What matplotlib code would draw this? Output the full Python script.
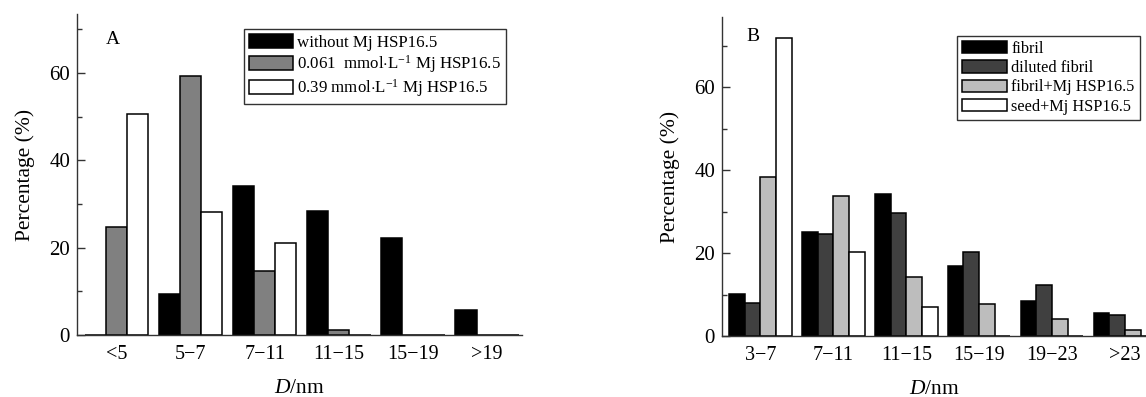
import numpy as np
import matplotlib
matplotlib.use("Agg")
import matplotlib.pyplot as plt
from matplotlib.ticker import MultipleLocator

plt.rcParams['font.family'] = ['Liberation Serif', 'DejaVu Serif']
plt.rcParams['mathtext.fontset'] = 'custom'
plt.rcParams['mathtext.rm'] = 'Liberation Serif'
plt.rcParams['mathtext.it'] = 'Liberation Serif:italic'

# ---- Panel A data ----
cats_a = ["<5", "5\u22127", "7\u221211", "11\u221215", "15\u221219", ">19"]
without_mj = [0, 9.4, 34.2, 28.3, 22.3, 5.8]
mj_0061 = [24.7, 59.3, 14.7, 1.1, 0, 0]
mj_039 = [50.6, 28.2, 21.0, 0, 0, 0]
labels_a = ["without Mj HSP16.5",
            r"0.061  mmol$\cdot$L$^{-1}$ Mj HSP16.5",
            r"0.39 mmol$\cdot$L$^{-1}$ Mj HSP16.5"]

# ---- Panel B data ----
cats_b = ["3\u22127", "7\u221211", "11\u221215", "15\u221219", "19\u221223", ">23"]
fibril = [10.1, 25.0, 34.3, 16.9, 8.4, 5.5]
diluted_fibril = [7.9, 24.7, 29.7, 20.3, 12.3, 5.0]
fibril_mj = [38.4, 33.8, 14.3, 7.8, 4.1, 1.4]
seed_mj = [72.0, 20.2, 7.0, 0, 0, 0]
labels_b = ["fibril", "diluted fibril", "fibril+Mj HSP16.5", "seed+Mj HSP16.5"]

W, H = 1146, 397
fig = plt.figure(figsize=(W / 100, H / 100), dpi=100)


def px_axes(l, r, t, b):
    return fig.add_axes([l / W, (H - b) / H, (r - l) / W, (b - t) / H])


def style(ax, ymax):
    for s in ("top", "right"):
        ax.spines[s].set_visible(False)
    for s in ("left", "bottom"):
        ax.spines[s].set_linewidth(1.0)
        ax.spines[s].set_color("#333333")
    ax.set_ylim(0, ymax)
    ax.yaxis.set_major_locator(MultipleLocator(20))
    ax.yaxis.set_minor_locator(MultipleLocator(10))
    ax.tick_params(axis="y", which="major", direction="in", length=6, width=1,
                   labelsize=15, pad=5, color="#333333")
    ax.tick_params(axis="y", which="minor", direction="in", length=3.5, width=1,
                   color="#333333")
    ax.tick_params(axis="x", length=0, labelsize=14.5, pad=7)
    ax.set_ylabel("Percentage (%)", fontsize=15.5, labelpad=10)
    ax.set_xlabel(r"$\mathit{D}$/nm", fontsize=15.5, labelpad=11)


# Panel A
axA = px_axes(77, 522, 14, 335)
series_a = [without_mj, mj_0061, mj_039]
colors_a = ["#000000", "#808080", "#ffffff"]
xa = np.arange(len(cats_a))
bw_a = 0.285
for i, (vals, col, lab) in enumerate(zip(series_a, colors_a, labels_a)):
    axA.bar(xa + (i - 1) * bw_a, vals, bw_a, color=col, edgecolor="black",
            linewidth=1.1, label=lab)
axA.set_xticks(xa)
axA.set_xticklabels(cats_a)
axA.set_xlim(-0.533, 5.47)
style(axA, 73.5)
axA.text(0.08, 0.92, "A", transform=axA.transAxes, fontsize=14, ha="center", va="center")
legA = axA.legend(loc="upper left", bbox_to_anchor=((244 - 77) / 445, 1 - (29 - 14) / 321),
                  fontsize=12.2, frameon=True, fancybox=False, edgecolor="black",
                  handlelength=2.6, handleheight=0.85, labelspacing=0.14,
                  handletextpad=0.25, borderpad=0.3, borderaxespad=0)
legA.get_frame().set_linewidth(1.0)

# Panel B
axB = px_axes(722, 1146, 17, 336)
series_b = [fibril, diluted_fibril, fibril_mj, seed_mj]
colors_b = ["#000000", "#404040", "#bdbdbd", "#ffffff"]
xb = np.arange(len(cats_b))
bw_b = 0.215
for i, (vals, col, lab) in enumerate(zip(series_b, colors_b, labels_b)):
    axB.bar(xb + (i - 1.5) * bw_b, vals, bw_b, color=col, edgecolor="black",
            linewidth=1.1, label=lab)
axB.set_xticks(xb)
axB.set_xticklabels(cats_b)
axB.set_xlim(-0.528, 5.29)
style(axB, 77)
axB.text(0.073, 0.94, "B", transform=axB.transAxes, fontsize=14, ha="center", va="center")
legB = axB.legend(loc="upper left", bbox_to_anchor=((957 - 722) / 424, 1 - (36 - 17) / 319),
                  fontsize=11.7, frameon=True, fancybox=False, edgecolor="black",
                  handlelength=2.8, handleheight=0.8, labelspacing=0.2,
                  handletextpad=0.25, borderpad=0.3, borderaxespad=0)
legB.get_frame().set_linewidth(1.0)

fig.savefig("out.png", dpi=100)
